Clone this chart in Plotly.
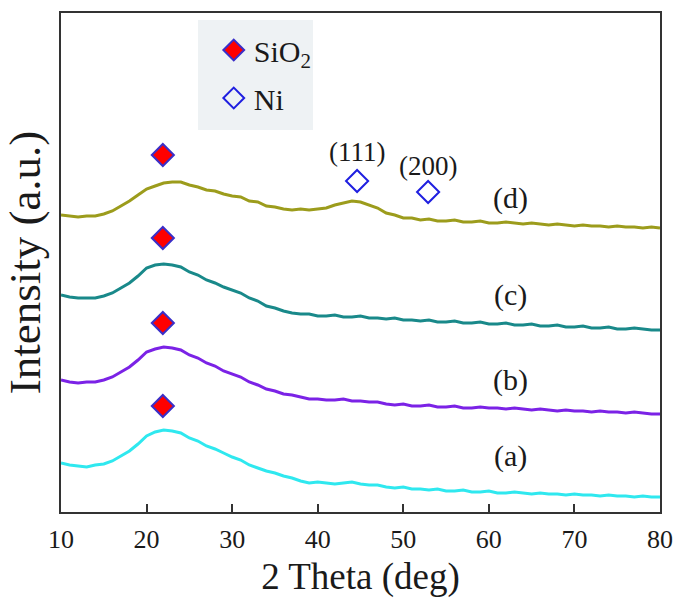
import plotly.graph_objects as go

# 2-theta sampling (deg)
two_theta = list(range(10, 81))

# Stacked XRD intensities (a.u., vertical offsets included)
pattern_a = [49, 47, 46, 45, 47, 48, 51, 56, 61, 68, 76, 80, 82, 81, 79, 74, 71, 66, 63, 59,
             55, 52, 47, 44, 41, 39, 36, 34, 31, 29, 30, 29, 28, 29, 30, 28, 27, 27, 25, 24,
             25, 23, 23, 22, 23, 21, 21, 22, 20, 20, 21, 19, 19, 20, 19, 18, 19, 18, 18, 17,
             18, 17, 17, 16, 17, 16, 16, 15, 16, 15, 15]
pattern_b = [132, 130, 129, 130, 130, 132, 135, 140, 145, 152, 160, 163, 165, 164, 162, 157, 154, 149, 146, 141,
             138, 135, 130, 127, 123, 121, 118, 117, 115, 113, 113, 112, 112, 113, 111, 111, 110, 110, 108, 107,
             108, 106, 106, 107, 105, 105, 106, 104, 104, 105, 104, 104, 103, 104, 103, 102, 103, 102, 101, 102,
             101, 101, 100, 101, 100, 100, 99, 100, 99, 98, 98]
pattern_c = [217, 215, 214, 214, 214, 216, 219, 224, 229, 236, 244, 247, 248, 247, 245, 240, 237, 232, 229, 225,
             222, 219, 214, 211, 206, 204, 201, 199, 198, 198, 196, 196, 197, 195, 195, 196, 194, 194, 193, 194,
             192, 192, 191, 192, 190, 190, 191, 189, 189, 190, 188, 188, 189, 187, 187, 188, 186, 186, 187, 185,
             185, 186, 184, 184, 185, 183, 183, 184, 183, 182, 182]
pattern_d = [297, 296, 295, 296, 296, 298, 301, 306, 311, 317, 323, 326, 329, 330, 330, 327, 325, 322, 321, 318,
             316, 315, 311, 310, 306, 305, 303, 302, 303, 302, 303, 304, 307, 309, 311, 310, 307, 304, 299, 297,
             294, 294, 292, 293, 291, 291, 292, 290, 290, 291, 289, 289, 290, 289, 288, 289, 288, 287, 288, 287,
             286, 287, 286, 286, 285, 286, 285, 285, 284, 285, 284]

sample_labels = ["(a)", "(b)", "(c)", "(d)"]
sample_colors = ["#2fe8ef", "#7b22e6", "#19898a", "#9c9c1c"]
label_x = 62.5
label_y = [56, 132, 217, 314]

# Phase markers
sio2_x = [21.9, 21.9, 21.9, 21.9]
sio2_y = [106, 189, 274, 357]
ni_x = [44.6, 52.9]
ni_y = [331, 320]
ni_hkl = ["(111)", "(200)"]
ni_hkl_y = [360, 346]

FONT = "Liberation Serif"
INK = "#1a1a1a"

fig = go.Figure()

for ys, col in zip([pattern_a, pattern_b, pattern_c, pattern_d], sample_colors):
    fig.add_trace(go.Scatter(x=two_theta, y=ys, mode="lines",
                             line=dict(color=col, width=3),
                             showlegend=False, hoverinfo="skip"))

fig.add_trace(go.Scatter(x=sio2_x, y=sio2_y, mode="markers", name="SiO<sub>2</sub>",
                         legendgroup="sio2",
                         marker=dict(symbol="diamond", size=17, color="#ff0000",
                                     line=dict(color="#3a2fc8", width=2))))
fig.add_trace(go.Scatter(x=ni_x, y=ni_y, mode="markers", name="Ni",
                         legendgroup="ni",
                         marker=dict(symbol="diamond-open", size=17, color="#1f1fe0",
                                     line=dict(color="#1f1fe0", width=2))))

for txt, yy in zip(sample_labels, label_y):
    fig.add_annotation(x=label_x, y=yy, text=txt, showarrow=False,
                       font=dict(family=FONT, size=30, color=INK))
for txt, xx, yy in zip(ni_hkl, ni_x, ni_hkl_y):
    fig.add_annotation(x=xx, y=yy, text=txt, showarrow=False,
                       font=dict(family=FONT, size=27, color=INK))

# Legend panel background
fig.add_shape(type="rect", xref="paper", yref="paper",
              x0=0.2287, x1=0.4207, y0=0.7655, y1=0.986,
              fillcolor="#eef2f4", line=dict(width=0), layer="below")

fig.update_layout(
    width=675, height=598,
    margin=dict(l=61, r=15, t=13, b=86, autoexpand=False),
    paper_bgcolor="white", plot_bgcolor="white",
    font=dict(family=FONT, color=INK),
    showlegend=True,
    legend=dict(x=0.255, y=0.978, xanchor="left", yanchor="top",
                bgcolor="rgba(0,0,0,0)", borderwidth=0,
                font=dict(family=FONT, size=30, color=INK),
                tracegroupgap=6, itemwidth=30),
    xaxis=dict(range=[10, 80], tickvals=[10, 20, 30, 40, 50, 60, 70, 80],
               ticks="inside", ticklen=8, tickwidth=1.5, tickcolor="#333",
               showline=True, linecolor="#333", linewidth=2, mirror=True,
               showgrid=False, zeroline=False, automargin=False,
               ticklabelstandoff=3,
               tickfont=dict(family=FONT, size=26, color=INK),
               title=dict(text="2 Theta (deg)", font=dict(family=FONT, size=37, color=INK),
                          standoff=12)),
    yaxis=dict(range=[0, 499], showticklabels=False, ticks="",
               showline=True, linecolor="#333", linewidth=2, mirror=True,
               showgrid=False, zeroline=False, automargin=False,
               title=dict(text="Intensity (a.u.)", font=dict(family=FONT, size=45, color=INK),
                          standoff=4)),
)

fig.write_html("out.html")
